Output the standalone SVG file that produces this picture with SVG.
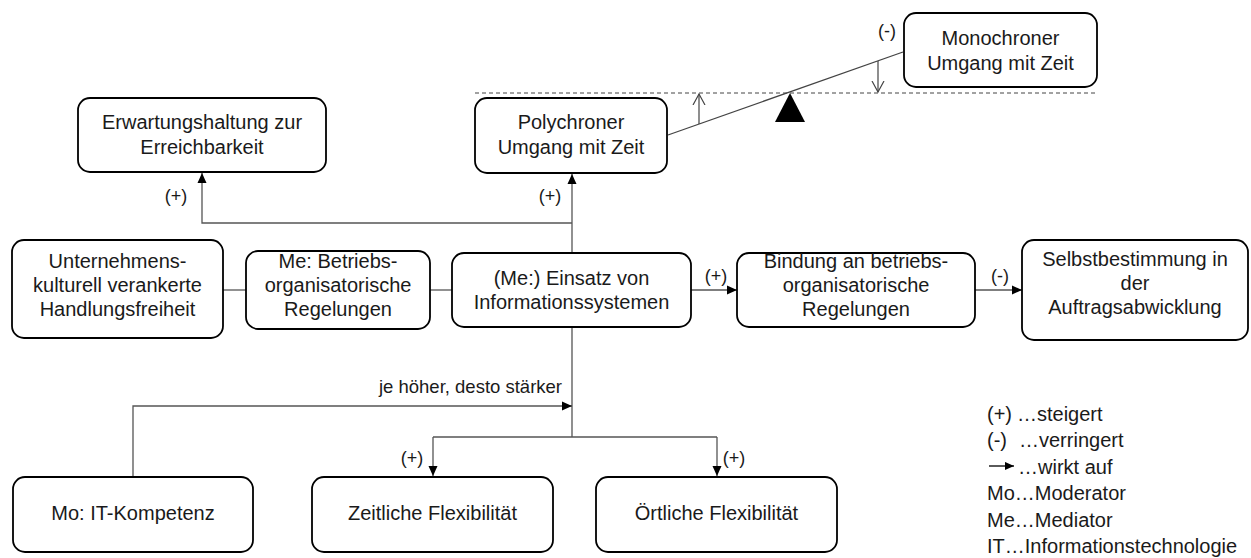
<svg xmlns="http://www.w3.org/2000/svg" width="1251" height="558" viewBox="0 0 1251 558">
<defs>
<style>
.box{fill:#fff;stroke:#000;stroke-width:1.8}
.t{font-family:"Liberation Sans",Arial,sans-serif;font-size:20px;fill:#1a1a1a;text-anchor:middle}
.lbl{font-family:"Liberation Sans",Arial,sans-serif;font-size:18px;fill:#1a1a1a;text-anchor:middle}
.leg{font-family:"Liberation Sans",Arial,sans-serif;font-size:20px;fill:#1a1a1a}
.c{fill:none;stroke:#555;stroke-width:1.3}
.arr{marker-end:url(#ah)}
.dash{fill:none;stroke:#444;stroke-width:1;stroke-dasharray:4 3}
.thin{fill:none;stroke:#444;stroke-width:1.2;marker-end:url(#open)}
</style>
<marker id="ah" viewBox="0 0 10 10" refX="10" refY="5" markerWidth="10" markerHeight="10" markerUnits="userSpaceOnUse" orient="auto">
<path d="M0,0.5 L10,5 L0,9.5 Z" fill="#000"/>
</marker>
<marker id="ahs" viewBox="0 0 10 10" refX="10" refY="5" markerWidth="9" markerHeight="9" markerUnits="userSpaceOnUse" orient="auto">
<path d="M0,0.5 L10,5 L0,9.5 Z" fill="#000"/>
</marker>
<marker id="open" viewBox="0 0 12 14" refX="11" refY="7" markerWidth="12" markerHeight="14" markerUnits="userSpaceOnUse" orient="auto">
<path d="M0,1 L11,7 L0,13" fill="none" stroke="#444" stroke-width="1.2"/>
</marker>
</defs>
<rect width="1251" height="558" fill="#fff"/>

<g id="connectors">
<path class="c" d="M223 290 H246"/>
<path class="c" d="M430 290 H452"/>
<path class="c arr" d="M691 290 H737"/>
<path class="c arr" d="M975 290 H1022"/>
<path class="c arr" d="M572 253 V174"/>
<path class="c arr" d="M572 223 H202 V173"/>
<path class="c" d="M572 327 V437 M433 437 H717"/>
<path class="c arr" d="M433 437 V476"/>
<path class="c arr" d="M717 437 V476"/>
<path class="c arr" d="M133 477 V406 H572"/>
<text class="lbl" x="176" y="202">(+)</text>
<text class="lbl" x="550" y="202">(+)</text>
<text class="lbl" x="716" y="282">(+)</text>
<text class="lbl" x="1000" y="282">(-)</text>
<text class="lbl" x="412" y="464">(+)</text>
<text class="lbl" x="734" y="464">(+)</text>
<text class="lbl" x="562" y="393" style="text-anchor:end;font-size:18.5px">je höher, desto stärker</text>
</g>

<g id="seesaw">
<path class="dash" d="M475 93 H1097"/>
<path fill="none" stroke="#444" stroke-width="1.3" d="M668 135 L903 52"/>
<polygon points="790,93 775,122 805,122" fill="#000"/>
<path class="thin" d="M699 124 V94"/>
<path class="thin" d="M878 61 V92"/>
<text class="lbl" x="887" y="37">(-)</text>
</g>

<g id="erwartung">
<rect class="box" x="78" y="98" width="248" height="74" rx="12"/>
<text class="t" x="202" y="129">Erwartungshaltung zur</text>
<text class="t" x="202" y="154">Erreichbarkeit</text>
</g>
<g id="polychron">
<rect class="box" x="475" y="98" width="192" height="75" rx="12"/>
<text class="t" x="571" y="129">Polychroner</text>
<text class="t" x="571" y="154">Umgang mit Zeit</text>
</g>
<g id="monochron">
<rect class="box" x="904" y="13" width="193" height="74" rx="12"/>
<text class="t" x="1000.5" y="45">Monochroner</text>
<text class="t" x="1000.5" y="70">Umgang mit Zeit</text>
</g>
<g id="unternehmen">
<rect class="box" x="12" y="240" width="211" height="98" rx="12"/>
<text class="t" x="117.5" y="268">Unternehmens-</text>
<text class="t" x="117.5" y="292">kulturell verankerte</text>
<text class="t" x="117.5" y="316">Handlungsfreiheit</text>
</g>
<g id="betriebs">
<rect class="box" x="246" y="251" width="184" height="78" rx="12"/>
<text class="t" x="338" y="268">Me: Betriebs-</text>
<text class="t" x="338" y="292">organisatorische</text>
<text class="t" x="338" y="316">Regelungen</text>
</g>
<g id="einsatz">
<rect class="box" x="452" y="253" width="239" height="74" rx="12"/>
<text class="t" x="571.5" y="285">(Me:) Einsatz von</text>
<text class="t" x="571.5" y="309">Informationssystemen</text>
</g>
<g id="bindung">
<rect class="box" x="737" y="253" width="238" height="74" rx="12"/>
<text class="t" x="856" y="268">Bindung an betriebs-</text>
<text class="t" x="856" y="292">organisatorische</text>
<text class="t" x="856" y="316">Regelungen</text>
</g>
<g id="selbst">
<rect class="box" x="1022" y="240" width="226" height="100" rx="12"/>
<text class="t" x="1135" y="266">Selbstbestimmung in</text>
<text class="t" x="1135" y="290">der</text>
<text class="t" x="1135" y="314">Auftragsabwicklung</text>
</g>
<g id="itkompetenz">
<rect class="box" x="13" y="477" width="240" height="75" rx="12"/>
<text class="t" x="133" y="520">Mo: IT-Kompetenz</text>
</g>
<g id="zeitlich">
<rect class="box" x="312" y="477" width="241" height="75" rx="12"/>
<text class="t" x="432.5" y="520">Zeitliche Flexibilität</text>
</g>
<g id="oertlich">
<rect class="box" x="596" y="477" width="241" height="75" rx="12"/>
<text class="t" x="716.5" y="520">Örtliche Flexibilität</text>
</g>

<g id="legend">
<text class="leg" x="987" y="421">(+)</text>
<text class="leg" x="1017" y="421">…steigert</text>
<text class="leg" x="987" y="447">(-)</text>
<text class="leg" x="1019" y="447">…verringert</text>
<path d="M989 466 H1014" stroke="#000" stroke-width="1.3" fill="none" marker-end="url(#ahs)"/>
<text class="leg" x="1018" y="474">…wirkt auf</text>
<text class="leg" x="987" y="500">Mo…Moderator</text>
<text class="leg" x="987" y="527">Me…Mediator</text>
<text class="leg" x="987" y="553">IT…Informationstechnologie</text>
</g>
</svg>
